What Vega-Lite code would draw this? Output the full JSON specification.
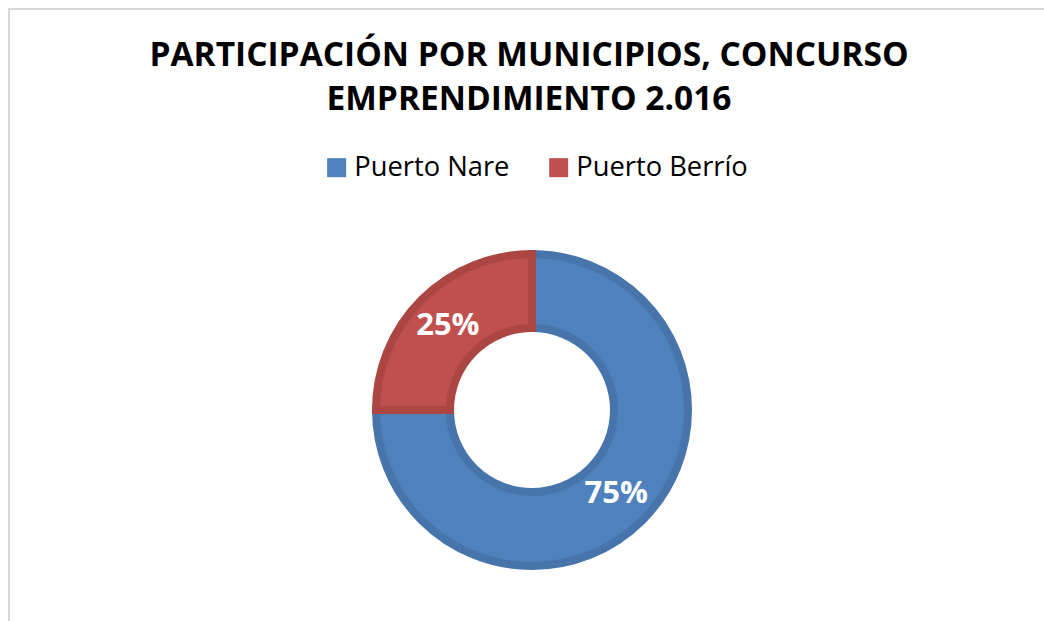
{
  "$schema": "https://vega.github.io/schema/vega-lite/v6.json",
  "width": 1040,
  "height": 617,
  "autosize": {"type": "none"},
  "padding": {"top": 9, "left": 9, "right": -5, "bottom": -5},
  "background": "white",
  "config": {
    "view": {"stroke": "#D9D9D9", "strokeWidth": 2},
    "font": "Open Sans"
  },
  "title": {
    "text": ["PARTICIPACIÓN POR MUNICIPIOS, CONCURSO", "EMPRENDIMIENTO 2.016"],
    "font": "Open Sans",
    "fontSize": 33.5,
    "fontWeight": "bold",
    "color": "#000000",
    "anchor": "middle",
    "lineHeight": 44,
    "offset": -109
  },
  "data": {
    "values": [
      {"municipio": "Puerto Nare", "pct": 75, "orden": 1, "label": "75%"},
      {"municipio": "Puerto Berrío", "pct": 25, "orden": 2, "label": "25%"}
    ]
  },
  "layer": [
    {
      "data": {"values": [{"marco": "borde"}]},
      "mark": {
        "type": "rect",
        "fill": null,
        "stroke": "#D9D9D9",
        "strokeWidth": 2
      },
      "encoding": {}
    },
    {
      "mark": {
        "type": "arc",
        "x": 523,
        "y": 401,
        "outerRadius": 156,
        "innerRadius": 82,
        "strokeWidth": 8,
        "strokeJoin": "miter"
      },
      "encoding": {
        "theta": {"field": "pct", "type": "quantitative", "stack": true},
        "order": {"field": "orden", "type": "quantitative"},
        "color": {
          "field": "municipio",
          "type": "nominal",
          "scale": {"domain": ["Puerto Nare", "Puerto Berrío"], "range": ["#4F81BD", "#C0504D"]},
          "legend": {
            "orient": "none",
            "direction": "horizontal",
            "legendX": 314,
            "legendY": 145,
            "title": null,
            "symbolType": "square",
            "symbolSize": 361,
            "symbolStrokeWidth": 0,
            "symbolOpacity": 1,
            "labelFont": "Open Sans",
            "labelFontSize": 27.3,
            "labelColor": "#000000",
            "labelOffset": 4,
            "columnPadding": 35,
            "padding": 0,
            "labelLimit": 400
          }
        },
        "stroke": {
          "field": "municipio",
          "type": "nominal",
          "scale": {"domain": ["Puerto Nare", "Puerto Berrío"], "range": ["#4674AB", "#AB4643"]},
          "legend": null
        }
      }
    },
    {
      "mark": {
        "type": "text",
        "x": 523,
        "y": 401,
        "radius": 119,
        "font": "Open Sans",
        "fontSize": 31,
        "fontWeight": "bold",
        "color": "#FFFFFF",
        "align": "center",
        "baseline": "middle"
      },
      "encoding": {
        "theta": {"field": "pct", "type": "quantitative", "stack": true},
        "order": {"field": "orden", "type": "quantitative"},
        "text": {"field": "label", "type": "nominal"}
      }
    }
  ]
}
